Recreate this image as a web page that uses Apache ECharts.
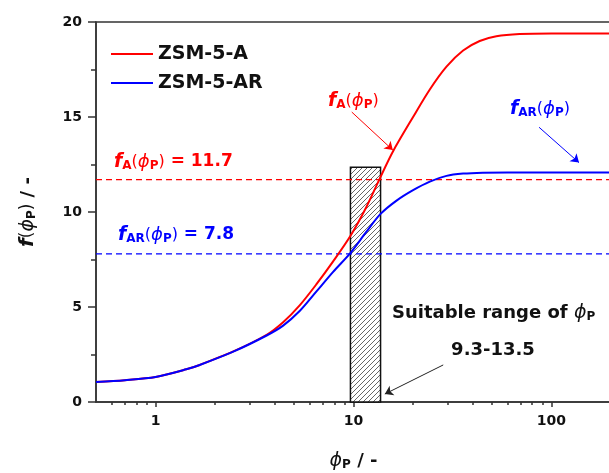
<!DOCTYPE html>
<html>
<head>
<meta charset="utf-8">
<script src="https://cdn.jsdelivr.net/npm/echarts@6/dist/echarts.min.js"></script>
<style>
  html, body { margin: 0; padding: 0; background: #fff; }
  #chart { width: 609px; height: 473px; }
</style>
</head>
<body>
<div id="chart"></div>
<script>
// curve samples
const phiA = [0.5, 0.7, 1, 1.43, 1.67, 2.47, 3.64, 4.41, 5.36, 6.5, 7.89, 9.66, 11.6, 13.7, 15.85, 20, 24.3, 29.5, 35.8, 43.4, 52.7, 69, 100, 200];
const fA = [1.05, 1.15, 1.32, 1.72, 1.95, 2.66, 3.54, 4.2, 5.1, 6.2, 7.4, 8.75, 10.25, 11.85, 13.2, 15.0, 16.45, 17.65, 18.5, 19.0, 19.25, 19.37, 19.4, 19.4];
const phiAR = [0.5, 0.7, 1, 1.43, 1.67, 2.47, 3.64, 4.41, 5.36, 6.5, 7.89, 9.66, 11.6, 13.7, 16.5, 20, 24.3, 29.5, 35.8, 45, 60, 100, 200];
const fAR = [1.05, 1.15, 1.32, 1.72, 1.95, 2.65, 3.5, 4.02, 4.8, 5.82, 6.85, 7.85, 8.95, 9.9, 10.6, 11.15, 11.6, 11.9, 12.02, 12.07, 12.08, 12.08, 12.08];

const seriesNames = ['ZSM-5-A', 'ZSM-5-AR'];
const levelA = 11.7;
const levelAR = 7.8;
const rangePhi = [9.65, 13.7];
const rangeTop = 12.35;

const xExtent = [0.5, 200];
const majorTicks = [1, 10, 100];
const minorTicks = [0.6, 0.7, 0.8, 0.9, 2, 3, 4, 5, 6, 7, 8, 9, 20, 30, 40, 50, 60, 70, 80, 90];

const FONT = 'DejaVu Sans';
const RED = '#ff0000';
const BLUE = '#0000ff';
const AXIS = '#333';

function hatch() {
  const n = 5;
  const c = document.createElement('canvas');
  c.width = n;
  c.height = n;
  const g = c.getContext('2d');
  g.fillStyle = '#fff';
  g.fillRect(0, 0, n, n);
  g.strokeStyle = '#555';
  g.lineWidth = 0.9;
  g.beginPath();
  g.moveTo(0, n); g.lineTo(n, 0);
  g.moveTo(-1, 1); g.lineTo(1, -1);
  g.moveTo(n - 1, n + 1); g.lineTo(n + 1, n - 1);
  g.stroke();
  return c;
}

// rich styles; key is 'fill' for graphic text, 'color' for component labels
function rich(c, key, big, small) {
  const s = (o) => Object.assign({ [key]: c, fontFamily: FONT }, o);
  return {
    f: s({ fontSize: big + 2, fontWeight: 'bold', fontStyle: 'italic' }),
    s: s({ fontSize: small, fontWeight: 'bold', padding: [Math.round(small * 0.7), 0, 0, 0] }),
    b: s({ fontSize: big - 1 }),
    p: s({ fontSize: big + 1, fontStyle: 'italic' }),
    n: s({ fontSize: big, fontWeight: 'bold' }),
  };
}

function label(text, x, y, c, big, small, align) {
  return {
    type: 'text',
    x, y,
    style: {
      text,
      rich: rich(c, 'fill', big, small),
      fill: c,
      align: align || 'left',
      verticalAlign: 'middle',
    },
  };
}

function levelLine(value, color) {
  return {
    type: 'line', z: 2, silent: true, symbol: 'none',
    data: xExtent.map((x) => [x, value]),
    lineStyle: { color, width: 1.2, type: [6, 4] },
    itemStyle: { color },
  };
}

const chart = echarts.init(document.getElementById('chart'));

const tickStyle = { color: AXIS, width: 1.5 };

chart.setOption({
  animation: false,
  grid: {
    left: 96, top: 22, width: 515, height: 380,
    outerBoundsMode: 'none',
    show: true, borderColor: AXIS, borderWidth: 1.5,
  },
  legend: {
    data: seriesNames,
    orient: 'vertical',
    left: 111, top: 44, padding: 0,
    icon: 'rect',
    itemWidth: 42, itemHeight: 2, itemGap: 9,
    textStyle: { fontFamily: FONT, fontSize: 19, fontWeight: 'bold', color: '#111', lineHeight: 20 },
  },
  xAxis: [
    {
      type: 'log', logBase: 10, min: xExtent[0], max: xExtent[1], position: 'bottom',
      axisLine: { lineStyle: tickStyle },
      axisTick: { customValues: majorTicks, length: 5, lineStyle: tickStyle },
      axisLabel: {
        customValues: majorTicks,
        formatter: (v) => String(Math.round(v)),
        fontFamily: FONT, fontSize: 14, fontWeight: 'bold', color: '#111', margin: 12,
      },
      splitLine: { show: false },
      name: '{p|ϕ}{s|P}{n| / -}',
      nameLocation: 'middle', nameGap: 49,
      nameTextStyle: { rich: rich('#111', 'color', 18, 12) },
    },
    {
      type: 'log', logBase: 10, min: xExtent[0], max: xExtent[1], position: 'bottom',
      axisLine: { show: false },
      axisTick: { customValues: minorTicks, length: 3, lineStyle: tickStyle },
      axisLabel: { show: false },
      splitLine: { show: false },
    },
  ],
  yAxis: {
    type: 'value', min: 0, max: 20, interval: 5,
    axisLine: { show: true, lineStyle: tickStyle },
    axisTick: { show: true, length: 8, lineStyle: tickStyle },
    minorTick: { show: true, splitNumber: 2, length: 5, lineStyle: tickStyle },
    axisLabel: { fontFamily: FONT, fontSize: 14, fontWeight: 'bold', color: '#111', margin: 14 },
    splitLine: { show: false },
    name: '{f|f}{b|(}{p|ϕ}{s|P}{b|)}{n| / -}',
    nameLocation: 'middle', nameGap: 58, nameRotate: 90,
    nameTextStyle: { rich: rich('#111', 'color', 18, 12) },
  },
  series: [
    {
      type: 'line', data: [], z: 1, silent: true,
      markArea: {
        silent: true,
        itemStyle: { color: { image: hatch(), repeat: 'repeat' }, borderColor: '#111', borderWidth: 1.5 },
        data: [[{ coord: [rangePhi[0], 0] }, { coord: [rangePhi[1], rangeTop] }]],
      },
    },
    levelLine(levelA, RED),
    levelLine(levelAR, BLUE),
    {
      name: seriesNames[0], type: 'line', z: 3,
      data: phiA.map((x, i) => [x, fA[i]]),
      smooth: 0.3, symbol: 'none',
      lineStyle: { color: RED, width: 2 }, itemStyle: { color: RED },
    },
    {
      name: seriesNames[1], type: 'line', z: 3,
      data: phiAR.map((x, i) => [x, fAR[i]]),
      smooth: 0.3, symbol: 'none',
      lineStyle: { color: BLUE, width: 2 }, itemStyle: { color: BLUE },
    },
    {
      type: 'line', data: [], z: 4, silent: true,
      markLine: {
        silent: true, symbol: ['none', 'arrow'], symbolSize: 8,
        label: { show: false },
        lineStyle: { type: 'solid', width: 1 },
        data: [
          [{ coord: [9.8, 15.26], lineStyle: { color: RED }, itemStyle: { color: RED } }, { coord: [15.8, 13.26] }],
          [{ coord: [86.6, 14.46], lineStyle: { color: BLUE }, itemStyle: { color: BLUE } }, { coord: [137.8, 12.6] }],
          [{ coord: [28.4, 1.95], lineStyle: { color: '#222' }, itemStyle: { color: '#222' } }, { coord: [14.4, 0.42] }],
        ],
      },
    },
  ],
  graphic: [
    label('{f|f}{s|A}{b|(}{p|ϕ}{s|P}{b|)}{n| = 11.7}', 114, 162, RED, 17, 12),
    label('{f|f}{s|AR}{b|(}{p|ϕ}{s|P}{b|)}{n| = 7.8}', 118, 235, BLUE, 17, 12),
    label('{f|f}{s|A}{b|(}{p|ϕ}{s|P}{b|)}', 328, 101, RED, 17, 12),
    label('{f|f}{s|AR}{b|(}{p|ϕ}{s|P}{b|)}', 510, 109, BLUE, 17, 12),
    label('{n|Suitable range of }{p|ϕ}{s|P}', 392, 313, '#111', 18, 12),
    label('{n|9.3-13.5}', 493, 350, '#111', 18, 12, 'center'),
  ],
});
</script>
</body>
</html>
